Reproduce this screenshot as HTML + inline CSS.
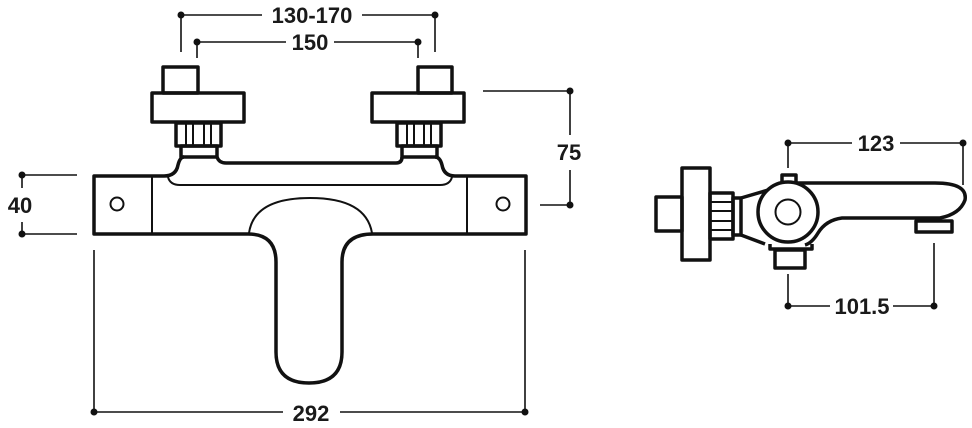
<!DOCTYPE html>
<html><head><meta charset="utf-8"><style>
html,body{margin:0;padding:0;background:#fff;}
svg{display:block}
text{font-family:"Liberation Sans",sans-serif;font-weight:bold;font-size:22px;fill:#1a1a1a}
</style></head><body>
<svg width="972" height="428" viewBox="0 0 972 428" xmlns="http://www.w3.org/2000/svg">
<g fill="none" stroke="#111" stroke-width="1.6">
<line x1="181" y1="15" x2="262" y2="15"/><line x1="362" y1="15" x2="435" y2="15"/>
<line x1="181" y1="15" x2="181" y2="52"/><line x1="435" y1="15" x2="435" y2="52"/>
<line x1="197" y1="42" x2="286" y2="42"/><line x1="334" y1="42" x2="418" y2="42"/>
<line x1="197" y1="42" x2="197" y2="58"/><line x1="418" y1="42" x2="418" y2="58"/>
<line x1="483" y1="91" x2="570" y2="91"/><line x1="570" y1="91" x2="570" y2="135"/><line x1="570" y1="170" x2="570" y2="205"/><line x1="540" y1="205" x2="570" y2="205"/>
<line x1="22" y1="175" x2="77" y2="175"/><line x1="22" y1="234" x2="77" y2="234"/>
<line x1="22" y1="175" x2="22" y2="188"/><line x1="22" y1="222" x2="22" y2="234"/>
<line x1="94" y1="250" x2="94" y2="412"/><line x1="525" y1="250" x2="525" y2="412"/>
<line x1="94" y1="412" x2="283" y2="412"/><line x1="340" y1="412" x2="525" y2="412"/>
<line x1="788" y1="143" x2="852" y2="143"/><line x1="900" y1="143" x2="963" y2="143"/>
<line x1="788" y1="143" x2="788" y2="168"/><line x1="963" y1="143" x2="963" y2="185"/>
<line x1="788" y1="306" x2="830" y2="306"/><line x1="893" y1="306" x2="934" y2="306"/>
<line x1="788" y1="274" x2="788" y2="306"/><line x1="934" y1="243" x2="934" y2="306"/>
</g>
<g fill="#111">
<circle cx="181" cy="15" r="3.5"/><circle cx="435" cy="15" r="3.5"/>
<circle cx="197" cy="42" r="3.5"/><circle cx="418" cy="42" r="3.5"/>
<circle cx="570" cy="91" r="3.5"/><circle cx="570" cy="205" r="3.5"/>
<circle cx="22" cy="175" r="3.5"/><circle cx="22" cy="234" r="3.5"/>
<circle cx="94" cy="412" r="3.5"/><circle cx="525" cy="412" r="3.5"/>
<circle cx="788" cy="143" r="3.5"/><circle cx="963" cy="143" r="3.5"/>
<circle cx="788" cy="306" r="3.5"/><circle cx="934" cy="306" r="3.5"/>
</g>
<text x="312" y="23" text-anchor="middle">130-170</text>
<text x="310" y="50" text-anchor="middle">150</text>
<text x="569" y="160" text-anchor="middle">75</text>
<text x="20" y="213" text-anchor="middle">40</text>
<text x="311" y="421" text-anchor="middle">292</text>
<text x="876" y="151" text-anchor="middle">123</text>
<text x="862" y="314" text-anchor="middle">101.5</text>

<g fill="none" stroke="#111" stroke-width="3.5" stroke-linejoin="round">
<path d="M164,176 H94 V234 H248 Q276,234 276,262 V352 Q276,383 309,383 Q342,383 342,352 V262 Q342,234 373,234 H526 V176 H455"/>
<path d="M164,176 Q176,176 178,165 Q180,157 184,157 M217,157 Q219,163 226,163 H396 Q402,163 402,157 M435,157 Q440,157 442,165 Q444,176 455,176"/>
<rect x="163" y="67" width="35" height="26"/>
<rect x="152" y="93" width="92" height="29"/>
<rect x="176" y="123" width="45" height="23"/>
<rect x="181" y="146" width="36" height="11"/>
<rect x="418" y="67" width="34" height="26"/>
<rect x="372" y="93" width="92" height="29"/>
<rect x="397" y="123" width="44" height="23"/>
<rect x="402" y="146" width="35" height="11"/>
</g>
<g fill="none" stroke="#111" stroke-width="2">
<path d="M168,177 Q170,185 180,185 H440 Q450,185 452,177"/>
<line x1="152" y1="177" x2="152" y2="233"/><line x1="467" y1="177" x2="467" y2="233"/>
<circle cx="117" cy="204" r="6.5"/><circle cx="503" cy="204" r="6.5"/>
<path d="M249,233 Q254,198 310,198 Q366,198 372,233"/>
<line x1="186" y1="124" x2="186" y2="145"/><line x1="193" y1="124" x2="193" y2="145"/><line x1="204" y1="124" x2="204" y2="145"/><line x1="211" y1="124" x2="211" y2="145"/>
<line x1="407" y1="124" x2="407" y2="145"/><line x1="414" y1="124" x2="414" y2="145"/><line x1="424" y1="124" x2="424" y2="145"/><line x1="431" y1="124" x2="431" y2="145"/>
</g>

<g fill="none" stroke="#111" stroke-width="3.5" stroke-linejoin="round">
<rect x="656" y="197" width="26" height="34"/>
<rect x="682" y="168" width="28" height="92"/>
<rect x="710" y="193" width="23" height="46"/>
<rect x="733" y="198" width="8" height="37"/>
<path d="M741,198 L775,188 M741,235 L765,244"/>
<path d="M782,184 V175 H796 V182"/>
<path d="M796,183 H935 Q968,183 965,200 Q960,214 940,218 H842 Q826,220 818,233 Q812,243 805,245"/>
<path d="M770,244 V249 H812 V244"/>
<rect x="775" y="250" width="30" height="18"/>
<circle cx="788" cy="212" r="30" fill="#fff"/>
<path d="M916,221 H952 V232 H916 Z"/>
</g>
<g fill="none" stroke="#111" stroke-width="2">
<circle cx="788" cy="212" r="12.5"/>
<line x1="711" y1="202" x2="732" y2="202"/><line x1="711" y1="211" x2="732" y2="211"/><line x1="711" y1="221" x2="732" y2="221"/><line x1="711" y1="230" x2="732" y2="230"/>
</g>
</svg>
</body></html>
